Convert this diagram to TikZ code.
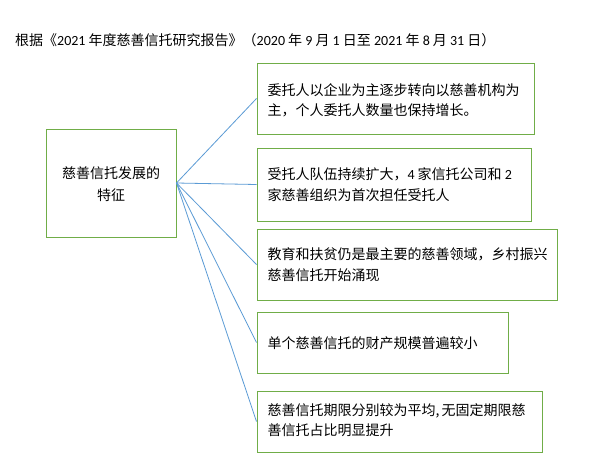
\documentclass[tikz,border=0pt]{standalone}
\usepackage{fontspec}
\setmainfont{Noto Sans CJK SC}
\newfontfamily\latf{Carlito}
\newcommand\dg[1]{{\latf #1}}
\definecolor{boxgreen}{HTML}{70AD47}
\definecolor{linkblue}{HTML}{5B9BD5}
\begin{document}
\begin{tikzpicture}[x=1pt,y=-1pt,
  box/.style={draw=boxgreen,line width=1pt,fill=white,inner sep=0pt,
    minimum width=#1},
  txt/.style={inner sep=0pt,anchor=base west,font=\fontsize{14}{20}\selectfont},
  ctxt/.style={inner sep=0pt,anchor=base,font=\fontsize{14}{20}\selectfont},
  link/.style={draw=linkblue,line width=0.8pt}]
\useasboundingbox[fill=white] (0,0) rectangle (601,469);
% title
\node[txt] (title) at (15,45.3) {根据《\dg{2021} 年度慈善信托研究报告》（\dg{2020} 年 \dg{9} 月 \dg{1} 日至 \dg{2021} 年 \dg{8} 月 \dg{31} 日）};
% boxes
\node[box=130pt,minimum height=108pt] (src) at (111,183) {};
\node[box=277pt,minimum height=71pt] (b1) at (395.5,98.5) {};
\node[box=274pt,minimum height=73pt] (b2) at (394,184.5) {};
\node[box=300pt,minimum height=71pt] (b3) at (407,264.5) {};
\node[box=251pt,minimum height=61pt] (b4) at (382.5,342.5) {};
\node[box=285pt,minimum height=61pt] (b5) at (399.5,421.5) {};
% connectors
\foreach \b in {b1,b2,b3,b4,b5}
  \draw[link] (src.east) -- (\b.west);
% texts
\node[ctxt] (s1) at (111,178.3) {慈善信托发展的};
\node[ctxt] (s2) at (111,200.3) {特征};
\node[txt] (t1a) at (267.3,95.3) {委托人以企业为主逐步转向以慈善机构为};
\node[txt] (t1b) at (267.3,115.3) {主，个人委托人数量也保持增长。};
\node[txt] (t2a) at (267.3,179.6) {受托人队伍持续扩大，\dg{4} 家信托公司和 \dg{2}};
\node[txt] (t2b) at (267.3,200.3) {家慈善组织为首次担任受托人};
\node[txt] (t3a) at (267.3,259.6) {教育和扶贫仍是最主要的慈善领域，乡村振兴};
\node[txt] (t3b) at (267.3,280.3) {慈善信托开始涌现};
\node[txt] (t4a) at (267.3,348.6) {单个慈善信托的财产规模普遍较小};
\node[txt] (t5a) at (267.3,415.3) {慈善信托期限分别较为平均,\,无固定期限慈};
\node[txt] (t5b) at (267.3,435.3) {善信托占比明显提升};
\end{tikzpicture}
\end{document}
